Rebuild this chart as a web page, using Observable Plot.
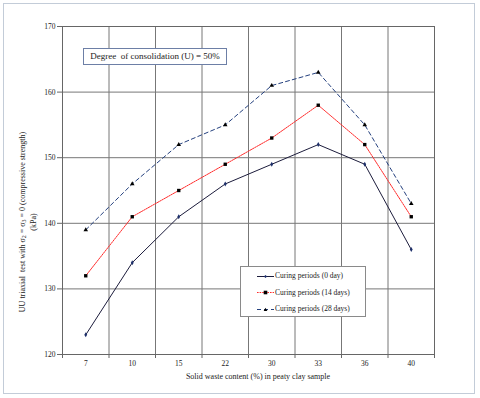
<!DOCTYPE html>
<html>
<head>
<meta charset="utf-8">
<script src="https://cdn.jsdelivr.net/npm/d3@7"></script>
<script src="https://cdn.jsdelivr.net/npm/@observablehq/plot@0.6"></script>
<style>
  html, body { margin: 0; padding: 0; background: #fff; }
  #wrap { position: relative; width: 480px; height: 398px; overflow: hidden; font-family: "Liberation Serif", "DejaVu Serif", serif; color: #222; }
  #frame { position: absolute; left: 3px; top: 3px; width: 470px; height: 389px; border: 1px solid #c3ccd8; box-sizing: content-box; pointer-events: none; }
  #title { position: absolute; left: 83px; top: 48px; width: 142px; height: 15px; border: 1px solid #6d7fa6; background: #fff; font-size: 9px; line-height: 15px; text-align: center; white-space: nowrap; }
  #legend { position: absolute; left: 240px; top: 266px; width: 124px; height: 49px; border: 1px solid #8a8a8a; background: #fff; font-size: 7.5px; }
  #legend .row { position: absolute; left: 16px; height: 10px; line-height: 10px; white-space: nowrap; }
  #legend svg { vertical-align: middle; margin-right: 1px; }
  #ylabel { position: absolute; left: 28px; top: 222px; width: 200px; transform: translate(-50%, -50%) rotate(-90deg); text-align: center; font-size: 8px; line-height: 11px; white-space: nowrap; }
  #xlabel { position: absolute; left: 258px; top: 372px; transform: translateX(-50%); font-size: 8px; white-space: nowrap; }
  sub { font-size: 6px; vertical-align: -1px; line-height: 0; }
</style>
</head>
<body>
<div id="wrap">
  <div id="chart"></div>
  <div id="frame"></div>
  <div id="title">Degree&nbsp; of consolidation (U) = 50%</div>
  <div id="ylabel">UU triaxial&nbsp; test with &sigma;<sub>2</sub> = &sigma;<sub>3</sub> = 0 (compressive strength)<br>(kPa)</div>
  <div id="xlabel">Solid waste content (%) in peaty clay sample</div>
  <div id="legend"></div>
</div>
<script>
const categories = ["7", "10", "15", "22", "30", "33", "36", "40"];
const day0 = [123, 134, 141, 146, 149, 152, 149, 136];
const day14 = [132, 141, 145, 149, 153, 158, 152, 141];
const day28 = [139, 146, 152, 155, 161, 163, 155, 143];
const yTicks = [120, 130, 140, 150, 160, 170];
const seriesNames = ["Curing periods (0 day)", "Curing periods (14 days)", "Curing periods (28 days)"];

const rows = categories.map((c, i) => ({cat: c, pos: i + 0.5, d0: day0[i], d14: day14[i], d28: day28[i]}));
const bounds = d3.range(categories.length + 1);
const centers = rows.map(r => r.pos);

const styles = [
  {stroke: "#1c1c3c", dash: null, symbol: "diamond", r: 1.5, fill: "#1d2f6a"},
  {stroke: "#ff2a2a", dash: "1.6,1", symbol: "square", r: 1.9, fill: "#000"},
  {stroke: "#24407e", dash: "4,3", symbol: "triangle", r: 1.7, fill: "#000"}
];
const keys = ["d0", "d14", "d28"];

const marks = [
  Plot.gridY(yTicks, {stroke: "#777", strokeOpacity: 1}),
  Plot.gridX(bounds, {stroke: "#777", strokeOpacity: 1}),
  Plot.frame({stroke: "#666"}),
  Plot.axisY(yTicks, {tickSize: 5, tickPadding: 2, stroke: "#666", label: null, fontSize: 7.5}),
  Plot.axisX(bounds, {tickSize: 4, tickFormat: () => "", stroke: "#666", label: null}),
  Plot.axisX(centers, {tickSize: 0, tickPadding: 6, tickFormat: d => categories[Math.floor(d)], label: null, fontSize: 7.5})
];
keys.forEach((k, i) => {
  const s = styles[i];
  marks.push(Plot.line(rows, {x: "pos", y: k, stroke: s.stroke, strokeWidth: 1, strokeDasharray: s.dash}));
  marks.push(Plot.dot(rows, {x: "pos", y: k, symbol: s.symbol, r: s.r, fill: s.fill, stroke: "none"}));
});

const chart = Plot.plot({
  width: 480,
  height: 398,
  marginLeft: 62,
  marginRight: 46,
  marginTop: 26,
  marginBottom: 44,
  x: {domain: [0, categories.length]},
  y: {domain: [120, 170]},
  style: {fontFamily: "Liberation Serif", fontSize: "7.5px", background: "transparent", color: "#222"},
  marks
});
document.getElementById("chart").appendChild(chart);

// legend
const legend = document.getElementById("legend");
seriesNames.forEach((name, i) => {
  const s = styles[i];
  const row = document.createElement("div");
  row.className = "row";
  row.style.top = (4 + i * 16.5) + "px";
  const sym = s.symbol === "square"
    ? `<rect x="6.7" y="2.7" width="3.6" height="3.6" fill="${s.fill}"/>`
    : s.symbol === "triangle"
      ? `<path d="M8.5,2.7 L10.3,6 L6.7,6 Z" fill="${s.fill}"/>`
      : `<path d="M8.5,2.9 L10.1,4.5 L8.5,6.1 L6.9,4.5 Z" fill="${s.fill}"/>`;
  row.innerHTML = `<svg width="17" height="9"><line x1="0" x2="17" y1="4.5" y2="4.5" stroke="${s.stroke}" stroke-width="1" ${s.dash ? `stroke-dasharray="${s.dash}"` : ""}/>${sym}</svg>${name}`;
  legend.appendChild(row);
});
</script>
</body>
</html>
